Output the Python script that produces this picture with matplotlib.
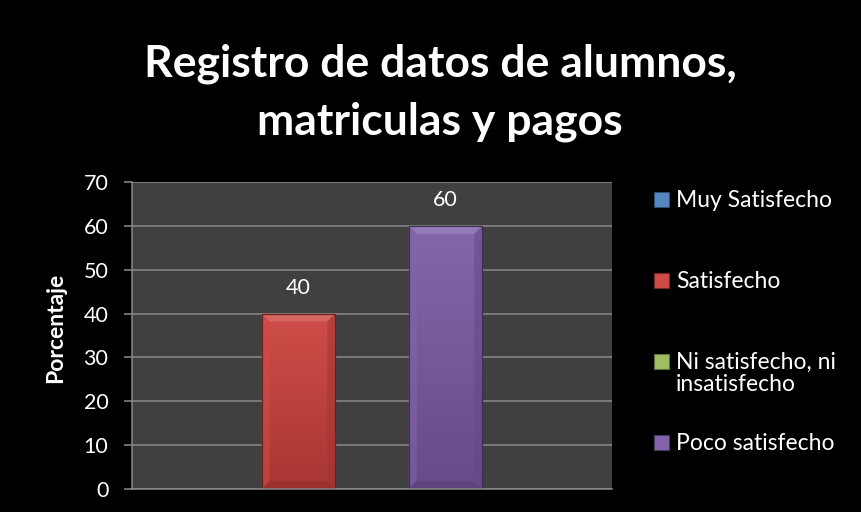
import matplotlib

matplotlib.use("Agg")
import matplotlib.pyplot as plt
import numpy as np
from matplotlib.colors import LinearSegmentedColormap, to_rgb
from matplotlib.patches import Polygon, Rectangle

plt.rcParams["font.family"] = ["Lato", "DejaVu Sans"]

TITLE_LINES = ["Registro de datos de alumnos,", "matriculas y pagos"]
Y_LABEL = "Porcentaje"
SERIES = ["Muy Satisfecho", "Satisfecho", "Ni satisfecho, ni\ninsatisfecho", "Poco satisfecho"]
VALUES = [0, 40, 0, 60]
COLORS = ["#4f81bd", "#cc423d", "#9bbb59", "#7c5ca6"]
Y_TICKS = [0, 10, 20, 30, 40, 50, 60, 70]
N_SLOTS = 5  # cluster has a fifth (empty, unlisted) slot

W, H = 861, 512


def shade(color, f):
    r, g, b = to_rgb(color)
    if f >= 0:
        return (r + (1 - r) * f, g + (1 - g) * f, b + (1 - b) * f)
    return (r * (1 + f), g * (1 + f), b * (1 + f))


fig = plt.figure(figsize=(W / 100, H / 100), dpi=100, facecolor="black")
ax = fig.add_axes([132 / W, 23 / H, 480 / W, 307 / H])
ax.set_facecolor("#404040")

center = (N_SLOTS - 1) / 2
xlim = (center - 3.265, center + 3.265)
ax.set_xlim(*xlim)
ax.set_ylim(0, 70)
ax.set_yticks(Y_TICKS)
ax.set_xticks([])
ax.grid(axis="y", color="#8a8a8a", lw=1.1)
ax.set_axisbelow(True)
for side in ["top", "right"]:
    ax.spines[side].set_visible(False)
for side in ["left", "bottom"]:
    ax.spines[side].set_color("#8a8a8a")
    ax.spines[side].set_linewidth(1.1)
ax.tick_params(axis="y", colors="#8a8a8a", length=6, width=1.1, labelcolor="white", labelsize=15.5, pad=11)
ax.set_ylabel(Y_LABEL, color="white", fontsize=16.5, fontweight="bold")
ax.yaxis.set_label_coords(-0.137, 0.526)

# bevel depth in data units (about 8 px)
dx = 8 / 480 * (xlim[1] - xlim[0])
dy = 8 / 307 * 70

for i, (val, col) in enumerate(zip(VALUES, COLORS)):
    if val <= 0:
        continue
    bars = ax.bar(i, val, width=1.0, color=col, edgecolor=shade(col, -0.5), lw=0.8, zorder=2)
    bar = bars[0]
    cmap = LinearSegmentedColormap.from_list("g", [shade(col, -0.18), shade(col, 0.06)])
    grad = np.linspace(0, 1, 100).reshape(-1, 1)
    im = ax.imshow(grad, cmap=cmap, aspect="auto", zorder=2.1,
                   extent=[i - 0.5, i + 0.5, 0, val], origin="lower")
    im.set_clip_path(bar)
    x0, x1 = i - 0.5, i + 0.5
    bevels = [
        ([(x0, val), (x1, val), (x1 - dx, val - dy), (x0 + dx, val - dy)], shade(col, 0.3)),
        ([(x0, 0), (x0, val), (x0 + dx, val - dy), (x0 + dx, dy)], shade(col, 0.05)),
        ([(x1, 0), (x1, val), (x1 - dx, val - dy), (x1 - dx, dy)], shade(col, -0.2)),
        ([(x0, 0), (x1, 0), (x1 - dx, dy), (x0 + dx, dy)], shade(col, -0.3)),
    ]
    for pts, c in bevels:
        ax.add_patch(Polygon(pts, closed=True, facecolor=c, edgecolor="none", alpha=0.55, zorder=2.2))
    ax.add_patch(Rectangle((x0, 0), 1.0, val, facecolor="none", edgecolor=shade(col, -0.5), lw=0.8, zorder=2.3))
    ax.annotate(str(val), (i, val), xytext=(0, 18.5), textcoords="offset points",
                ha="center", va="center", color="white", fontsize=15.5)
ax.set_xlim(*xlim)
ax.set_ylim(0, 70)

title_baselines = [77, 135]
for line, yb in zip(TITLE_LINES, title_baselines):
    fig.text(440 / W, 1 - yb / H, line, ha="center", va="baseline", color="white",
             fontsize=32, fontweight="bold")

# legend, Excel style with marker aligned to first line
legend_y = [199, 280, 361, 442]
for name, col, yy in zip(SERIES, COLORS, legend_y):
    fig.patches.append(Rectangle((654 / W, 1 - (yy + 7.5) / H), 15 / W, 15 / H,
                                 transform=fig.transFigure, facecolor=shade(col, 0.05),
                                 edgecolor=shade(col, -0.4), lw=0.8))
    for j, part in enumerate(name.split("\n")):
        fig.text(676 / W, 1 - (yy + 8 + 22 * j) / H, part, ha="left", va="baseline",
                 color="white", fontsize=16.5)

fig.savefig("out.png", dpi=100, facecolor="black")
